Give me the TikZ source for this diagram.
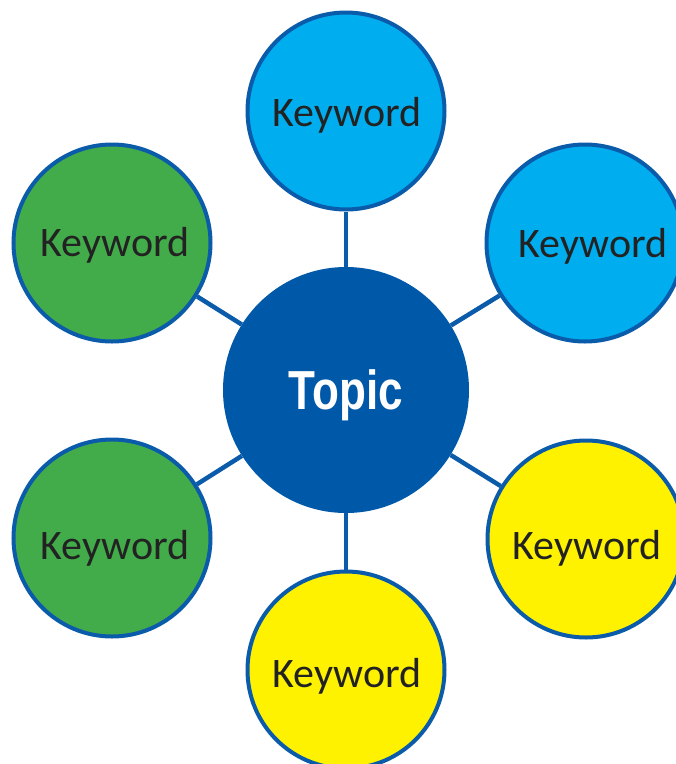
\documentclass[tikz,border=0pt]{standalone}
\usepackage{fontspec}
\newfontfamily\kwfont{Carlito}
\newfontfamily\topicfont[FakeStretch=0.8]{Liberation Sans}
\definecolor{edgeblue}{HTML}{0A5BAA}
\definecolor{topicblue}{HTML}{0059A8}
\definecolor{lightblue}{HTML}{00AEEF}
\definecolor{kwgreen}{HTML}{43AC4A}
\definecolor{kwyellow}{HTML}{FFF200}
\definecolor{kwtext}{HTML}{222222}
\begin{document}
\begin{tikzpicture}[x=1pt,y=-1pt,
  kw/.style={circle,draw=edgeblue,line width=4pt,minimum size=197pt,inner sep=0pt},
  kwlabel/.style={font=\kwfont\fontsize{42}{50}\selectfont,text=kwtext,text depth=0pt,inner sep=0pt},
  link/.style={draw=edgeblue,line width=4.5pt}]
\useasboundingbox (0,0) rectangle (676,764);
\node[circle,fill=topicblue,minimum size=246pt,inner sep=0pt,text=white,text depth=0pt,
  font=\topicfont\bfseries\fontsize{55}{60}\selectfont] (topic) at (346,390) {Topic};
\node[kw,fill=lightblue,label={[kwlabel,xshift=1pt,yshift=-1pt]center:Keyword}] (k1) at (346,111) {};
\node[kw,fill=lightblue,label={[kwlabel,xshift=8pt]center:Keyword}] (k2) at (585,243) {};
\node[kw,fill=kwyellow,label={[kwlabel,xshift=1pt,yshift=-6pt]center:Keyword}] (k3) at (586,539) {};
\node[kw,fill=kwyellow,label={[kwlabel,xshift=1pt,yshift=-3pt]center:Keyword}] (k4) at (346,670) {};
\node[kw,fill=kwgreen,label={[kwlabel,xshift=3pt,yshift=-7pt]center:Keyword}] (k5) at (112,538) {};
\node[kw,fill=kwgreen,label={[kwlabel,xshift=3pt,yshift=1.5pt]center:Keyword}] (k6) at (112,243) {};
\foreach \k in {k1,k2,k3,k4,k5,k6}{\path[link] (topic) -- (\k);}
\end{tikzpicture}
\end{document}
